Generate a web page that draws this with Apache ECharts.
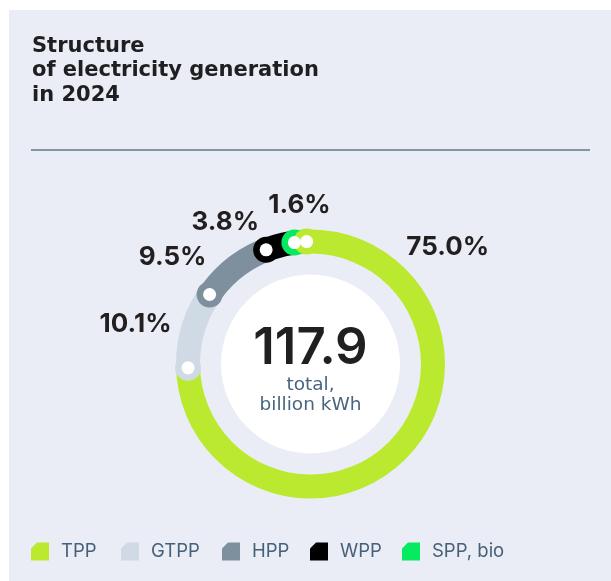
<!DOCTYPE html>
<html>
<head>
<meta charset="utf-8">
<title>Structure of electricity generation in 2024</title>
<script src="https://cdn.jsdelivr.net/npm/echarts@6/dist/echarts.min.js"></script>
<style>
  html, body {margin: 0; padding: 0; background: #fff;}
  #chart {width: 611px; height: 581px;}
</style>
</head>
<body>
<div id="chart"></div>
<script>
// data
var categories = ['TPP', 'GTPP', 'HPP', 'WPP', 'SPP, bio'];
var shares = [75.0, 10.1, 9.5, 3.8, 1.6];   // % of total generation
var total = 117.9;                          // billion kWh

// styles / layout
var colors = ['#bbe92f', '#d0dae5', '#7e8f9d', '#000000', '#05ea5f'];
var center = [310.5, 364];
var labelPos = [[180, 13.8], [179.5, 78.6], [174.5, 85.5], [165.5, 91.4], [159.5, 98.9]]; // [radius px, angle %]
var legendLeft = [31, 121, 222, 310, 402];
var capOffset = 0.5;
var numFont = 'Inter';
var textFont = 'DejaVu Sans';

var myChart = echarts.init(document.getElementById('chart'));

// start of every segment, clockwise from 12 o'clock
var starts = [], acc = 0;
shares.forEach(function (v) {
  starts.push(acc);
  acc += v;
});

var ringData = categories.map(function (name, i) {
  return {name: name, value: shares[i]};
});

// round caps at each segment start; TPP drawn last so it sits on top
var capData = categories.map(function (name, i) {
  var a = starts[i] - capOffset;
  if (a < 0) a += 100;
  return {name: name, value: [122.5, a], itemStyle: {color: colors[i]}};
});
capData.push(capData.shift());
var dotData = capData.map(function (d) {
  return {name: d.name, value: d.value};
});

var labelData = categories.map(function (name, i) {
  return {name: name, value: [labelPos[i][0], labelPos[i][1], shares[i]]};
});

var legends = categories.map(function (name, i) {
  return {
    data: [name],
    left: legendLeft[i],
    top: 542,
    padding: 0,
    itemWidth: 18,
    itemHeight: 18,
    icon: 'path://M6,0 L18,0 L18,18 L0,18 L0,6 Z',
    selectedMode: false,
    textStyle: {color: '#46607a', fontSize: 18.5, fontFamily: numFont, padding: [0, 0, 0, 7]}
  };
});

var option = {
  animation: false,
  color: colors,
  title: {
    text: 'Structure\nof electricity generation\nin 2024',
    left: 32,
    top: 34,
    padding: 0,
    textStyle: {color: '#1f1f21', fontSize: 21, fontWeight: 700, lineHeight: 24.5, fontFamily: textFont}
  },
  graphic: [
    {type: 'rect', z: -10, silent: true, shape: {x: 9, y: 10, width: 602, height: 571}, style: {fill: '#eaedf5'}},
    {type: 'line', z: -9, silent: true, shape: {x1: 31, y1: 150, x2: 590, y2: 150}, style: {stroke: '#8394a4', lineWidth: 2}}
  ],
  legend: legends,
  polar: {center: center, radius: 200},
  angleAxis: {type: 'value', min: 0, max: 100, startAngle: 90, clockwise: true, show: false},
  radiusAxis: {type: 'value', min: 0, max: 200, show: false},
  series: [
    {
      type: 'pie',
      center: center,
      radius: [0, 89.5],
      silent: true,
      z: 1,
      itemStyle: {color: '#ffffff'},
      label: {
        show: true,
        position: 'center',
        padding: [10, 0, 0, 0],
        formatter: '{a|' + total + '}\n{b|total,}\n{b|billion kWh}',
        rich: {
          a: {fontSize: 51, fontWeight: 600, color: '#221f20', lineHeight: 52, fontFamily: numFont},
          b: {fontSize: 18.5, color: '#4a6580', lineHeight: 20, fontFamily: textFont}
        }
      },
      labelLine: {show: false},
      emphasis: {disabled: true},
      data: [{name: 'total', value: total}]
    },
    {
      type: 'pie',
      center: center,
      radius: [110.5, 134.5],
      startAngle: 90,
      clockwise: true,
      silent: true,
      z: 2,
      label: {show: false},
      labelLine: {show: false},
      emphasis: {disabled: true},
      data: ringData
    },
    {
      type: 'scatter',
      coordinateSystem: 'polar',
      silent: true,
      z: 3,
      symbol: 'circle',
      symbolSize: 26,
      itemStyle: {opacity: 1},
      emphasis: {disabled: true},
      data: capData
    },
    {
      type: 'scatter',
      coordinateSystem: 'polar',
      silent: true,
      z: 4,
      symbol: 'circle',
      symbolSize: 13,
      itemStyle: {color: '#ffffff', opacity: 1},
      emphasis: {disabled: true},
      data: dotData
    },
    {
      type: 'scatter',
      coordinateSystem: 'polar',
      silent: true,
      z: 5,
      symbolSize: 0,
      itemStyle: {opacity: 1},
      label: {
        show: true,
        position: 'inside',
        color: '#231f20',
        opacity: 1,
        fontSize: 26,
        fontWeight: 700,
        fontFamily: numFont,
        formatter: function (p) {
          return p.value[2].toFixed(1) + '%';
        }
      },
      emphasis: {disabled: true},
      data: labelData
    }
  ]
};

if (option && typeof option === "object") {
  myChart.setOption(option, true);
}
</script>
</body>
</html>
